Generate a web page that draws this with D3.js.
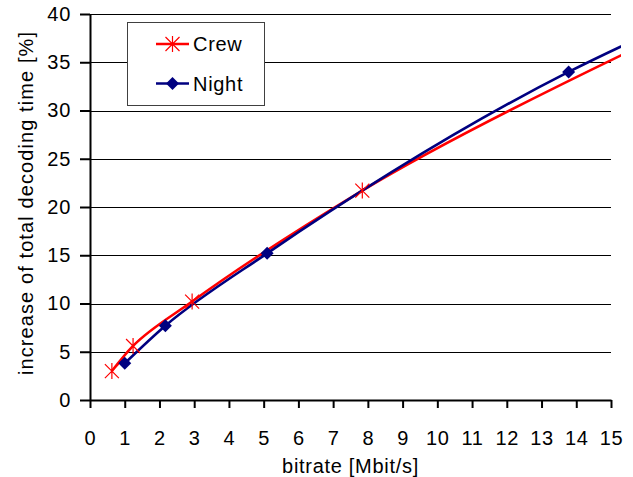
<!DOCTYPE html>
<html>
<head>
<meta charset="utf-8">
<script src="https://cdn.jsdelivr.net/npm/d3@7"></script>
<style>
  body { margin: 0; background: #fff; }
  svg { display: block; font-family: "Liberation Sans", Arial, sans-serif; }
  .lbl { font-size: 20px; letter-spacing: 0.7px; fill: #000; }
</style>
</head>
<body>
<div id="chart"></div>
<script>
// ------- data ---------------------------------
// last point of each series sits beyond 15 Mbit/s, it gets clipped like in the original
var crew_x  = [0.63, 1.24, 2.94, 7.84, 20.0];
var crew_y  = [3.0, 5.6, 10.2, 21.7, 43.7];
var night_x = [1.0, 2.17, 5.1, 13.78, 17.0];
var night_y = [3.8, 7.7, 15.2, 34.0, 39.5];
var crew_marked = 4;   // how many crew points carry a marker
var night_marked = 4;

var x_ticks = d3.range(0, 16, 1);
var y_ticks = d3.range(0, 41, 5);

var series = [
  {name: "Crew",  xs: crew_x,  ys: crew_y,  marked: crew_marked,  color: "#ff0000", marker: "star"},
  {name: "Night", xs: night_x, ys: night_y, marked: night_marked, color: "#000080", marker: "diamond"}
];

// ------- setup -----------
var W = 633, H = 477;
var m_left = 90, m_right = 611, m_top = 14, m_bottom = 400;

var svg = d3.select("#chart").append("svg")
  .attr("width", W).attr("height", H);

var x = d3.scaleLinear().domain([0, 15]).range([m_left, m_right]);
var y = d3.scaleLinear().domain([0, 40]).range([m_bottom, m_top]);

// gridlines
svg.append("g").selectAll("line")
  .data(y_ticks.filter(function(d){ return d > 0; }))
  .enter().append("line")
  .attr("x1", m_left).attr("x2", m_right)
  .attr("y1", function(d){ return Math.round(y(d)) + 0.5; })
  .attr("y2", function(d){ return Math.round(y(d)) + 0.5; })
  .attr("stroke", "#000").attr("stroke-width", 1);

// axes
var xAxis = d3.axisBottom(x).tickValues(x_ticks).tickSizeInner(8).tickSizeOuter(0).tickPadding(23);
var yAxis = d3.axisLeft(y).tickValues(y_ticks).tickSizeInner(10).tickSizeOuter(0).tickPadding(9);

var gx = svg.append("g").attr("transform", "translate(0," + m_bottom + ")").call(xAxis);
var gy = svg.append("g").attr("transform", "translate(" + m_left + ",0)").call(yAxis);

[gx, gy].forEach(function(g){
  g.attr("font-size", null).attr("font-family", null);
  g.select(".domain").attr("stroke", "#000").attr("stroke-width", 2);
  g.selectAll(".tick line").attr("stroke", "#000").attr("stroke-width", 2);
  g.selectAll(".tick text").attr("class", "lbl").attr("fill", "#000");
});

svg.append("text").attr("class", "lbl")
  .attr("x", (m_left + m_right) / 2).attr("y", 473)
  .attr("text-anchor", "middle")
  .text("bitrate [Mbit/s]");

svg.append("text").attr("class", "lbl")
  .attr("transform", "translate(33," + 203 + ") rotate(-90)")
  .attr("text-anchor", "middle")
  .style("letter-spacing", "1.1px")
  .text("increase of total decoding time [%]");

// ------- series -----------
svg.append("clipPath").attr("id", "plotclip")
  .append("rect").attr("x", m_left).attr("y", m_top - 2)
  .attr("width", 621 - m_left).attr("height", m_bottom - m_top + 4);

// chordal catmull-rom comes closest to the excel smoothing here
var line = d3.line()
  .x(function(d){ return x(d[0]); })
  .y(function(d){ return y(d[1]); })
  .curve(d3.curveCatmullRom.alpha(1));

function draw_marker(g, kind, color, cx, cy) {
  if (kind == "star") {
    var r = 7;
    g.append("path")
      .attr("d", "M" + (cx - r) + "," + (cy - r) + "L" + (cx + r) + "," + (cy + r) +
                 "M" + (cx - r) + "," + (cy + r) + "L" + (cx + r) + "," + (cy - r) +
                 "M" + cx + "," + (cy - r - 1) + "L" + cx + "," + (cy + r + 1))
      .attr("stroke", color).attr("stroke-width", 1.2).attr("fill", "none");
  } else {
    var s = 6.5;
    g.append("path")
      .attr("d", "M" + cx + "," + (cy - s) + "L" + (cx + s) + "," + cy +
                 "L" + cx + "," + (cy + s) + "L" + (cx - s) + "," + cy + "Z")
      .attr("fill", color);
  }
}

var plot = svg.append("g").attr("clip-path", "url(#plotclip)");

series.forEach(function(s){
  var pts = s.xs.map(function(v, i){ return [v, s.ys[i]]; });
  plot.append("path").datum(pts)
    .attr("d", line)
    .attr("fill", "none")
    .attr("stroke", s.color)
    .attr("stroke-width", 2.6);
});

series.forEach(function(s){
  var mg = plot.append("g");
  for (var i = 0; i < s.marked; i++) {
    draw_marker(mg, s.marker, s.color, x(s.xs[i]), y(s.ys[i]));
  }
});

// ------- legend -----------
var lg = svg.append("g");
lg.append("rect")
  .attr("x", 127.5).attr("y", 22.5).attr("width", 137).attr("height", 83)
  .attr("fill", "#fff").attr("stroke", "#404040").attr("stroke-width", 1);

series.forEach(function(s, i){
  var ly = 44 + i * 39.5;
  lg.append("line")
    .attr("x1", 156).attr("x2", 189).attr("y1", ly).attr("y2", ly)
    .attr("stroke", s.color).attr("stroke-width", 2.6);
  draw_marker(lg, s.marker, s.color, 172.5, ly);
  lg.append("text").attr("class", "lbl")
    .attr("x", 193).attr("y", ly + 7)
    .text(s.name);
});
</script>
</body>
</html>
